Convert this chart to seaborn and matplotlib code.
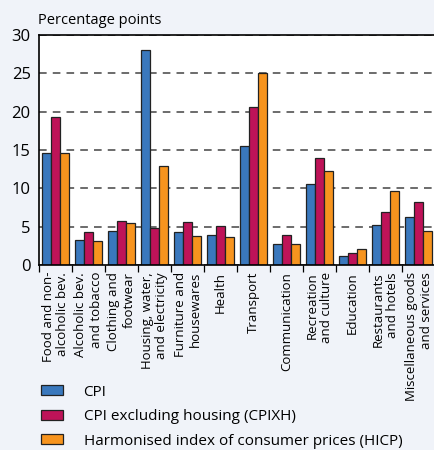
import numpy as np
import pandas as pd
import seaborn as sns
import matplotlib.pyplot as plt
import matplotlib.patheffects as pe
from matplotlib.patches import Patch

categories = [
    "Food and non-\nalcoholic bev.",
    "Alcoholic bev.\nand tobacco",
    "Clothing and\nfootwear",
    "Housing, water,\nand electricity",
    "Furniture and\nhousewares",
    "Health",
    "Transport",
    "Communication",
    "Recreation\nand culture",
    "Education",
    "Restaurants\nand hotels",
    "Miscellaneous goods\nand services",
]
series = ["CPI", "CPI excluding housing (CPIXH)", "Harmonised index of consumer prices (HICP)"]
cpi = [14.6, 3.2, 4.4, 28.1, 4.3, 3.9, 15.5, 2.8, 10.6, 1.2, 5.2, 6.2]
cpixh = [19.3, 4.3, 5.8, 4.8, 5.6, 5.1, 20.6, 3.9, 14.0, 1.6, 6.9, 8.2]
hicp = [14.6, 3.1, 5.5, 12.9, 3.8, 3.7, 25.0, 2.8, 12.2, 2.1, 9.7, 4.5]
colors = ["#3a78bd", "#be1358", "#f7941e"]

df = pd.DataFrame({
    "category": categories * 3,
    "series": [s for s in series for _ in categories],
    "value": cpi + cpixh + hicp,
})

bg = "#f0f3f9"
plt.rcParams['font.family'] = ['Open Sans', 'DejaVu Sans']
fig = plt.figure(figsize=(4.34, 4.5), dpi=100, facecolor=bg)
ax = fig.add_axes([39 / 434, 1 - 265 / 450, 396 / 434, 230 / 450])
ax.set_facecolor("white")

sns.barplot(data=df, x="category", y="value", hue="series", order=categories,
            hue_order=series, palette=colors, width=0.8, edgecolor="#222222",
            linewidth=0.9, saturation=1, ax=ax, legend=False)
# faint drop shadow like the original
for bar in ax.patches:
    bar.set_path_effects([pe.SimplePatchShadow(offset=(1, -1), alpha=0.25), pe.Normal()])

ax.set_ylim(0, 30)
ax.set_xlim(-0.5, len(categories) - 0.5)
ax.set_yticks(range(0, 31, 5))
ax.set_axisbelow(True)
ax.yaxis.grid(True, linestyle=(0, (5, 4)), color="#444444", linewidth=1.1)
ax.set_xlabel("")
ax.set_ylabel("")
ax.spines["right"].set_visible(False)
for s in ["left", "top", "bottom"]:
    ax.spines[s].set_linewidth(1.2)
    ax.spines[s].set_color("black")

ax.tick_params(axis="y", length=0, pad=6, labelsize=12)
ax.set_xticks(range(len(categories)))
ax.set_xticklabels(categories, rotation=90, ha="center", va="top",
                   multialignment="right", fontsize=9.5)
ax.tick_params(axis="x", which="major", length=0, pad=5)
ax.set_xticks(np.arange(-0.5, len(categories), 1.0), minor=True)
ax.tick_params(axis="x", which="minor", length=5, width=0.9, direction="out")

fig.text(38 / 434, 1 - 20 / 450, "Percentage points", fontsize=10.5, va="center", ha="left")

handles = [Patch(facecolor=c, edgecolor="#222222", linewidth=0.9) for c in colors]
fig.legend(handles, series, loc="upper left", bbox_to_anchor=(27 / 434, 1 - 371 / 450),
           frameon=False, fontsize=11, handlelength=1.45, handleheight=0.65,
           handletextpad=1.35, labelspacing=0.62)

fig.savefig("out.png", dpi=100, facecolor=bg)
